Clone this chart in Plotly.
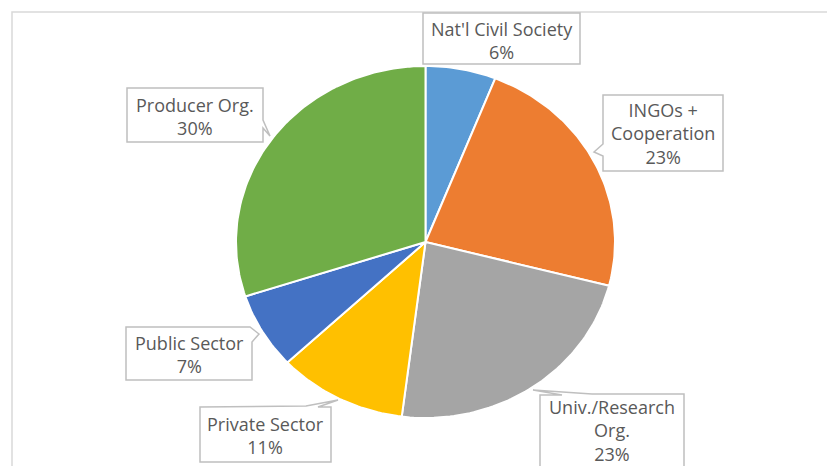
import numpy as np
import plotly.graph_objects as go

# ---- data -------------------------------------------------------------
categories = ["Nat'l Civil Society", "INGOs + Cooperation", "Univ./Research Org.",
              "Private Sector", "Public Sector", "Producer Org."]
shares = [6, 23, 23, 11, 7, 30]          # percent of respondents
label_lines = [["Nat'l Civil Society"], ["INGOs +", "Cooperation"],
               ["Univ./Research", "Org."], ["Private Sector"],
               ["Public Sector"], ["Producer Org."]]

# ---- styling / layout -------------------------------------------------
W, H = 827, 466
colors = ["#5B9BD5", "#ED7D31", "#A5A5A5", "#FFC000", "#4472C4", "#70AD47"]
text_color = "#595959"
box_color = "#BFBFBF"
font_family = "Open Sans"
font_size = 18
cx, cy, rx, ry = 425.5, 242.0, 189.5, 176.0   # pie centre and radii (px)

# callout outline (closed path, px) and the centre of its text block
callouts = [
    dict(path=[(423, 13), (580, 13), (580, 64), (423, 64)],
         tx=501.5, ty=40),
    dict(path=[(603, 95), (723, 95), (723, 171), (603, 171), (603, 156), (594, 152), (603, 144)],
         tx=663, ty=133),
    dict(path=[(540, 395), (562, 395), (533, 390), (592, 394), (684, 394), (684, 490), (540, 490)],
         tx=612, ty=430),
    dict(path=[(200, 407), (306, 406), (338, 400), (318, 407), (331, 407), (331, 462), (200, 462)],
         tx=265.5, ty=435),
    dict(path=[(126, 327), (250, 327), (259, 334), (252, 342), (252, 380), (126, 380)],
         tx=189, ty=354),
    dict(path=[(127, 88), (263, 88), (263, 120), (270, 136), (263, 128), (263, 142), (127, 142)],
         tx=195, ty=116),
]

fig = go.Figure()

# pie slices: clockwise from 12 o'clock, drawn as elliptical wedges
bounds = np.concatenate([[0], np.cumsum(shares)]) / np.sum(shares) * 2 * np.pi
for i, cat in enumerate(categories):
    t = np.linspace(bounds[i], bounds[i + 1], max(3, int(shares[i] * 3)))
    xs = np.concatenate([[cx], cx + rx * np.sin(t), [cx]])
    ys = np.concatenate([[cy], cy - ry * np.cos(t), [cy]])
    fig.add_trace(go.Scatter(
        x=xs, y=ys, mode="lines", fill="toself", fillcolor=colors[i],
        line=dict(color="white", width=2), name=cat,
        hoverinfo="text", text=f"{cat}: {shares[i]}%", showlegend=False))

shapes = [dict(type="rect", xref="x", yref="y", x0=12, y0=12, x1=W + 5, y1=H + 5,
               line=dict(color="#D9D9D9", width=1.5), fillcolor="rgba(0,0,0,0)",
               layer="below")]
annotations = []
for i, c in enumerate(callouts):
    d = "M" + " L".join(f"{x},{y}" for x, y in c["path"]) + " Z"
    shapes.append(dict(type="path", xref="x", yref="y", path=d,
                       line=dict(color=box_color, width=1.5), fillcolor="white",
                       layer="above"))
    text = "<br>".join(label_lines[i] + [f"{shares[i]}%"])
    annotations.append(dict(x=c["tx"], y=c["ty"], xref="x", yref="y", text=text,
                            showarrow=False, xanchor="center", yanchor="middle",
                            align="center", borderpad=0,
                            font=dict(family=font_family, size=font_size,
                                      color=text_color)))

fig.update_layout(
    width=W, height=H, margin=dict(l=0, r=0, t=0, b=0),
    paper_bgcolor="white", plot_bgcolor="white",
    xaxis=dict(range=[0, W], visible=False, fixedrange=True),
    yaxis=dict(range=[H, 0], visible=False, fixedrange=True),
    shapes=shapes, annotations=annotations, showlegend=False,
)

fig.write_html("out.html")
